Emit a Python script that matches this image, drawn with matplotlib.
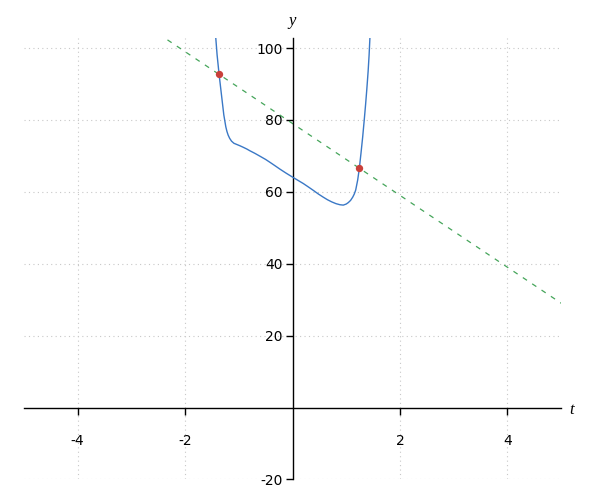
import matplotlib
matplotlib.use("Agg")
import matplotlib.pyplot as plt

plt.rcParams['axes.unicode_minus'] = False

# Curve values
curve_t = [-1.45, -1.427, -1.403, -1.366, -1.321, -1.278, -1.241, -1.22, -1.198,
           -1.17, -1.135, -1.09, -1.042, -0.977, -0.919, -0.85, -0.791, -0.70,
           -0.605, -0.50, -0.419, -0.33, -0.233, -0.12, 0.0, 0.1, 0.201, 0.3,
           0.387, 0.48, 0.573, 0.65, 0.729, 0.81, 0.884, 0.945, 1.0, 1.038,
           1.08, 1.12, 1.15, 1.176, 1.213, 1.243, 1.274, 1.306, 1.336, 1.36,
           1.383, 1.407, 1.425, 1.44, 1.46]
curve_y = [108.0, 102.7, 98.1, 92.7, 86.9, 81.4, 78.1, 76.8, 75.8,
           74.9, 74.1, 73.5, 73.2, 72.8, 72.4, 71.9, 71.4, 70.7,
           69.9, 69.0, 68.2, 67.3, 66.3, 65.2, 64.1, 63.2, 62.3, 61.3,
           60.4, 59.4, 58.5, 57.8, 57.2, 56.7, 56.4, 56.3, 56.6, 57.0,
           57.6, 58.5, 59.4, 60.5, 63.3, 66.5, 70.7, 75.3, 80.2, 84.3,
           88.6, 93.5, 98.0, 102.7, 108.5]

# Dashed line endpoints
line_t = [-2.5, 5.0]
line_y = [104.0, 29.0]

# Intersection points
pts_t = [-1.366, 1.243]
pts_y = [92.7, 66.5]

xticks = [-4, -2, 2, 4]
yticks = [-20, 20, 40, 60, 80, 100]

fig = plt.figure(figsize=(6, 5), dpi=100)
ax = fig.add_axes([0.0396, 0.0412, 0.8958, 0.8822])
ax.set_xlim(-5, 5)
ax.set_ylim(-20, 102.7)

# grid
for xv in xticks:
    ax.axvline(xv, color='#c8c8c8', linestyle=(0, (1, 3)), linewidth=0.8, zorder=0)
for yv in yticks:
    ax.axhline(yv, color='#c8c8c8', linestyle=(0, (1, 3)), linewidth=0.8, zorder=0)

ax.plot(line_t, line_y, color='#45a55a', linestyle=(0, (4, 5)), linewidth=0.9, zorder=2)
ax.plot(curve_t, curve_y, color='#3a78c6', linewidth=1.0, zorder=3)
ax.scatter(pts_t, pts_y, s=28, color='#c9403a', zorder=4, linewidths=0)

for s in ['top', 'right']:
    ax.spines[s].set_visible(False)
ax.spines['left'].set_position(('data', 0))
ax.spines['bottom'].set_position(('data', 0))
ax.spines['left'].set_linewidth(1.0)
ax.spines['bottom'].set_linewidth(1.0)

ax.set_xticks(xticks)
ax.set_xticklabels([str(v) for v in xticks])
ax.set_yticks(yticks)
ax.set_yticklabels([str(v) for v in yticks])
ax.tick_params(axis='x', direction='out', length=5, width=1, pad=14, labelsize=10)
ax.tick_params(axis='y', direction='out', length=5, width=1, pad=2, labelsize=10)

fig.text(292.5 / 600, 1 - 21 / 500, 'y', ha='center', va='center',
         fontsize=12, fontstyle='italic', family='Liberation Serif')
fig.text(572 / 600, 1 - 410 / 500, 't', ha='center', va='center',
         fontsize=12, fontstyle='italic', family='Liberation Serif')

fig.savefig('out.png', dpi=100)
